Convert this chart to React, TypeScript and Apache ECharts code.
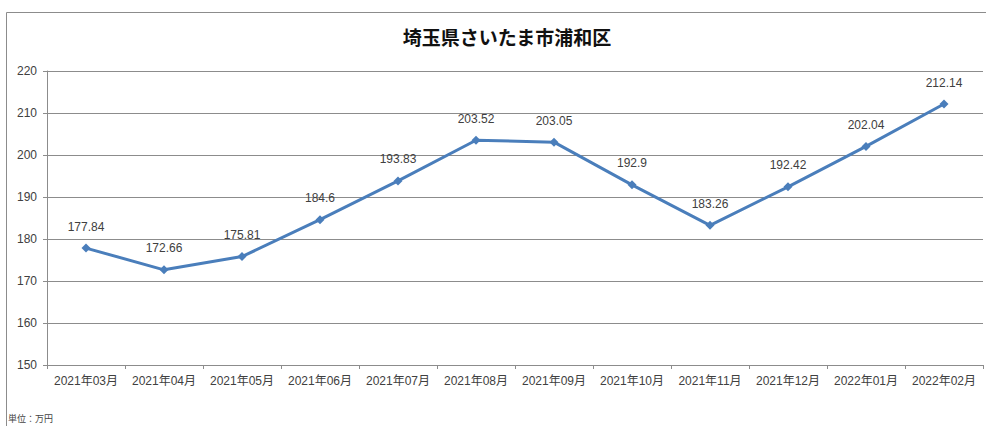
import React, { useEffect, useRef } from "react";
import * as echarts from "echarts";

const TITLE = "埼玉県さいたま市浦和区";
const UNIT_NOTE = "単位：万円";
const categories = [
  "2021年03月", "2021年04月", "2021年05月", "2021年06月", "2021年07月", "2021年08月",
  "2021年09月", "2021年10月", "2021年11月", "2021年12月", "2022年01月", "2022年02月",
];
const values = [177.84, 172.66, 175.81, 184.6, 193.83, 203.52, 203.05, 192.9, 183.26, 192.42, 202.04, 212.14];
const yMin = 150;
const yMax = 220;
const yInterval = 10;

const FONT = "'Noto Sans CJK JP', 'Noto Sans', sans-serif";
const NUM_FONT = "'Liberation Sans', 'Noto Sans CJK JP', sans-serif";

export default function App() {
  const ref = useRef<HTMLDivElement>(null);
  useEffect(() => {
    if (!ref.current) return;
    const chart = echarts.init(ref.current, undefined, { renderer: "svg" });
    chart.setOption({
      animation: false,
      backgroundColor: "#ffffff",
      title: {
        text: TITLE,
        left: 502,
        textAlign: "center",
        top: 22,
        textStyle: { fontFamily: FONT, fontSize: 19, fontWeight: "bold", color: "#111" },
      },
      graphic: [
        {
          type: "rect",
          shape: { x: 6.5, y: 12.5, width: 1000, height: 500 },
          style: { fill: "none", stroke: "#8c8c8c", lineWidth: 1 },
          z: -1,
        },
        {
          type: "text",
          left: 8,
          top: 414,
          style: { text: UNIT_NOTE, fontFamily: FONT, fontSize: 9, fill: "#444" },
        },
      ],
      grid: { left: 47, right: 3, top: 71, bottom: 61, containLabel: false },
      xAxis: {
        type: "category",
        data: categories,
        boundaryGap: true,
        axisLine: { lineStyle: { color: "#8c8c8c" } },
        axisTick: { show: true, length: 4, inside: false, lineStyle: { color: "#8c8c8c" } },
        axisLabel: { fontFamily: NUM_FONT, fontSize: 12, color: "#404040", margin: 10, interval: 0 },
      },
      yAxis: {
        type: "value",
        min: yMin,
        max: yMax,
        interval: yInterval,
        axisLine: { show: true, lineStyle: { color: "#8c8c8c" } },
        axisTick: { show: true, length: 4, lineStyle: { color: "#8c8c8c" } },
        axisLabel: { fontFamily: NUM_FONT, fontSize: 12, color: "#404040", margin: 10 },
        splitLine: { lineStyle: { color: "#8c8c8c", width: 1 } },
      },
      series: [
        {
          type: "line",
          data: values,
          symbol: "diamond",
          symbolSize: 9,
          lineStyle: { color: "#4a7ebb", width: 3 },
          itemStyle: { color: "#4a7ebb" },
          label: {
            show: true,
            position: "top",
            distance: 11,
            fontFamily: NUM_FONT,
            fontSize: 12,
            color: "#404040",
          },
        },
      ],
    });
    return () => chart.dispose();
  }, []);
  return <div ref={ref} style={{ width: 986, height: 426, position: "absolute", left: 0, top: 0 }} />;
}
